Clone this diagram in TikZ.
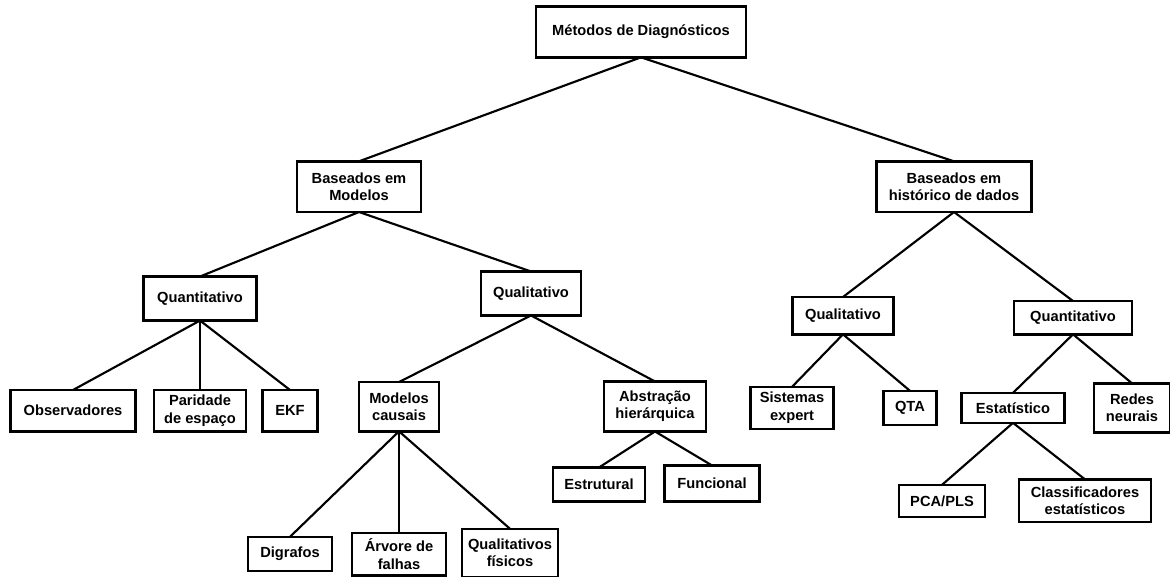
\documentclass[tikz,border=0pt]{standalone}
\usepackage{fontspec}
\setmainfont{Liberation Sans}
\usepackage{tikz}
\usetikzlibrary{positioning, shadows}

\begin{document}
\begin{tikzpicture}[
  box/.style={rectangle, draw=black, line width=1.8pt, fill=white,
              align=center, inner sep=1pt, outer sep=0pt,
              font=\fontsize{11}{13}\selectfont\bfseries,
              drop shadow={shadow xshift=1pt, shadow yshift=-1pt, opacity=0.25}},
  sz/.style 2 args={minimum width=#1, minimum height=#2},
  edge/.style={line width=1.6pt, black},
]
\useasboundingbox (0,0) rectangle (877.5pt,-432.75pt);

%% Root
\node[box, sz={157.5pt}{38pt}] (root) at (480.75pt,-24pt) {Métodos de Diagnósticos};

%% Level 1
\node[box, sz={93pt}{38pt}, below=78pt of root, xshift=-211.5pt] (modelos) {Baseados em\\Modelos};
\node[box, sz={116pt}{38pt}, below=78pt of root, xshift=234.75pt] (historico) {Baseados em\\histórico de dados};

%% Level 2 -- modelos
\node[box, sz={85pt}{33pt}, below=48.4pt of modelos, xshift=-119.25pt] (quantM) {Quantitativo};
\node[box, sz={75pt}{33pt}, below=44.6pt of modelos, xshift=129pt] (qualM) {Qualitativo};

%% Level 2 -- historico
\node[box, sz={76pt}{28pt}, below=63.75pt of historico, xshift=-83.25pt] (qualH) {Qualitativo};
\node[box, sz={88.5pt}{25pt}, below=66.75pt of historico, xshift=89.25pt] (quantH) {Quantitativo};

%% Level 3
\node[box, sz={94pt}{31pt}, below=52.1pt of quantM, xshift=-95.25pt] (obs) {Observadores};
\node[box, sz={69pt}{31pt}, below=52.1pt of quantM] (paridade) {Paridade\\de espaço};
\node[box, sz={41pt}{31pt}, below=52.1pt of quantM, xshift=67.5pt] (ekf) {EKF};
\node[box, sz={60pt}{37pt}, below=49.9pt of qualM, xshift=-99pt] (causais) {Modelos\\causais};
\node[box, sz={76.5pt}{37.5pt}, below=49.5pt of qualM, xshift=93pt] (abstr) {Abstração\\hierárquica};
\node[box, sz={62pt}{31.5pt}, below=39.4pt of qualH, xshift=-38.25pt] (expert) {Sistemas\\expert};
\node[box, sz={40pt}{25.5pt}, below=42.4pt of qualH, xshift=50.25pt] (qta) {QTA};
\node[box, sz={77pt}{22.5pt}, below=43.9pt of quantH, xshift=-45pt] (estat) {Estatístico};
\node[box, sz={57pt}{37pt}, below=36.75pt of quantH, xshift=44.25pt] (redes) {Redes\\neurais};

%% Level 4
\node[box, sz={63pt}{25.5pt}, below=79.1pt of causais, xshift=-81.75pt] (digrafos) {Digrafos};
\node[box, sz={70.5pt}{32pt}, below=76.1pt of causais] (arvore) {Árvore de\\falhas};
\node[box, sz={72pt}{36pt}, below=73.1pt of causais, xshift=83.25pt] (fisicos) {Qualitativos\\físicos};
\node[box, sz={69pt}{25.5pt}, below=27pt of abstr, xshift=-42pt] (estrut) {Estrutural};
\node[box, sz={71pt}{27pt}, below=25.5pt of abstr, xshift=42.75pt] (func) {Funcional};
\node[box, sz={64.5pt}{24pt}, below=46.5pt of estat, xshift=-53.25pt] (pca) {PCA/PLS};
\node[box, sz={99pt}{32pt}, below=42.4pt of estat, xshift=54pt] (classif) {Classificadores\\estatísticos};

%% Connectors
\foreach \p/\c in {root/modelos, root/historico,
                   modelos/quantM, modelos/qualM,
                   historico/qualH, historico/quantH,
                   quantM/obs, quantM/paridade, quantM/ekf,
                   qualM/causais, qualM/abstr,
                   qualH/expert, qualH/qta,
                   quantH/estat, quantH/redes,
                   causais/digrafos, causais/arvore, causais/fisicos,
                   abstr/estrut, abstr/func,
                   estat/pca, estat/classif}
  \draw[edge] (\p.south) -- (\c.north);

\end{tikzpicture}
\end{document}
